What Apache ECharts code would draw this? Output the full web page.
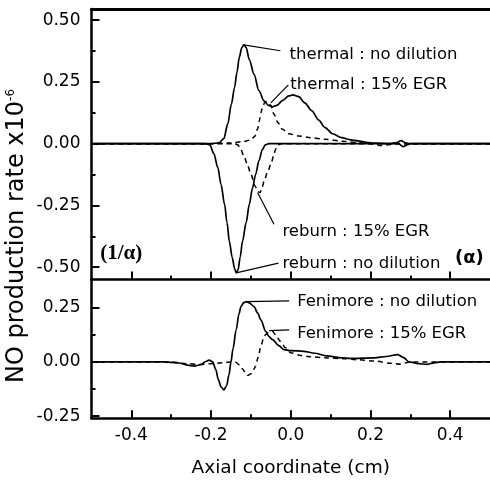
<!DOCTYPE html>
<html>
<head>
<meta charset="utf-8">
<script src="https://cdn.jsdelivr.net/npm/echarts@6/dist/echarts.min.js"></script>
<style>html,body{margin:0;padding:0;background:#fff}#c{width:490px;height:482px}</style>
</head>
<body>
<div id="c"></div>
<script>
// ---- data (x in cm, y in 1e-6 units) ----
const thermalNoDil = [[-0.5,0],[-0.2,0],[-0.18,0.003],[-0.168,0.02],[-0.158,0.08],[-0.149,0.16],[-0.141,0.227],[-0.135,0.29],[-0.129,0.35],[-0.123,0.388],[-0.118,0.40],[-0.112,0.39],[-0.104,0.34],[-0.092,0.28],[-0.08,0.215],[-0.067,0.173],[-0.056,0.155],[-0.046,0.149],[-0.035,0.155],[-0.02,0.175],[-0.005,0.193],[0.005,0.197],[0.02,0.19],[0.035,0.165],[0.053,0.133],[0.07,0.095],[0.086,0.065],[0.105,0.04],[0.128,0.024],[0.15,0.015],[0.169,0.011],[0.19,0.005],[0.21,0.002],[0.25,0],[0.265,0.004],[0.277,0.012],[0.287,0.004],[0.295,0],[0.5,0]];
const thermalEGR = [[-0.5,0],[-0.2,0],[-0.15,0.003],[-0.12,0.008],[-0.1,0.015],[-0.09,0.03],[-0.083,0.06],[-0.079,0.092],[-0.075,0.125],[-0.071,0.146],[-0.065,0.168],[-0.058,0.17],[-0.05,0.155],[-0.042,0.119],[-0.032,0.085],[-0.021,0.058],[-0.005,0.04],[0.02,0.031],[0.05,0.024],[0.086,0.018],[0.13,0.01],[0.17,0.004],[0.2,0],[0.227,-0.008],[0.25,-0.004],[0.27,0],[0.5,0]];
const reburnNoDil = [[-0.5,0],[-0.215,0],[-0.203,-0.005],[-0.193,-0.04],[-0.183,-0.097],[-0.175,-0.165],[-0.166,-0.246],[-0.16,-0.32],[-0.154,-0.396],[-0.147,-0.46],[-0.141,-0.505],[-0.137,-0.523],[-0.132,-0.51],[-0.127,-0.46],[-0.121,-0.395],[-0.112,-0.32],[-0.104,-0.246],[-0.096,-0.18],[-0.088,-0.124],[-0.08,-0.07],[-0.071,-0.023],[-0.064,-0.005],[-0.055,0],[0.27,0],[0.282,-0.012],[0.292,-0.005],[0.3,0],[0.5,0]];
const reburnEGR = [[-0.5,0],[-0.14,0],[-0.133,-0.005],[-0.125,-0.025],[-0.116,-0.057],[-0.108,-0.09],[-0.1,-0.124],[-0.09,-0.17],[-0.082,-0.195],[-0.077,-0.198],[-0.072,-0.18],[-0.067,-0.151],[-0.058,-0.115],[-0.05,-0.084],[-0.043,-0.05],[-0.038,-0.023],[-0.032,-0.005],[-0.025,0],[0.5,0]];
const fenNoDil = [[-0.5,0],[-0.32,0],[-0.28,-0.005],[-0.26,-0.015],[-0.24,-0.019],[-0.225,-0.012],[-0.213,0.002],[-0.205,0.008],[-0.196,0.0],[-0.188,-0.035],[-0.182,-0.08],[-0.175,-0.115],[-0.168,-0.129],[-0.161,-0.11],[-0.155,-0.06],[-0.15,0],[-0.145,0.06],[-0.137,0.148],[-0.13,0.22],[-0.125,0.255],[-0.118,0.273],[-0.112,0.278],[-0.104,0.272],[-0.092,0.255],[-0.083,0.225],[-0.075,0.194],[-0.063,0.141],[-0.055,0.118],[-0.046,0.103],[-0.03,0.075],[-0.017,0.057],[0.0,0.052],[0.033,0.049],[0.06,0.04],[0.09,0.028],[0.128,0.019],[0.15,0.016],[0.21,0.019],[0.24,0.025],[0.268,0.034],[0.283,0.02],[0.297,0],[0.32,-0.008],[0.343,-0.011],[0.36,-0.004],[0.376,0],[0.5,0]];
const fenEGR = [[-0.5,0],[-0.3,0],[-0.26,-0.008],[-0.23,-0.012],[-0.2,-0.008],[-0.17,-0.004],[-0.15,0.0],[-0.138,-0.002],[-0.128,-0.015],[-0.12,-0.034],[-0.113,-0.055],[-0.108,-0.062],[-0.1,-0.055],[-0.093,-0.035],[-0.088,-0.019],[-0.082,0.02],[-0.075,0.072],[-0.069,0.105],[-0.063,0.126],[-0.055,0.138],[-0.046,0.141],[-0.038,0.125],[-0.026,0.095],[-0.013,0.065],[0.0,0.042],[0.025,0.03],[0.049,0.024],[0.086,0.019],[0.132,0.015],[0.17,0.01],[0.21,0.004],[0.25,-0.006],[0.276,-0.011],[0.29,-0.004],[0.3,0],[0.5,0]];

const xMajorTicks = [-0.4,-0.2,0,0.2,0.4];
const xMinorTicks = [-0.3,-0.1,0.1,0.3];
const yTopMajor = [-0.5,-0.25,0,0.25,0.5];
const yTopMinor = [-0.375,-0.125,0.125,0.375];
const yBotMajor = [-0.25,0,0.25];
const yBotMinor = [-0.125,0.125];

const xTitle = 'Axial coordinate (cm)';
const yTitle = 'NO production rate x10';
const yTitleSup = '-6';

// annotation texts with anchor (data coords) and leader line from curve feature
const topNotes = [
  {text:'thermal : no dilution', at:[-0.003,0.36], from:[-0.118,0.40], to:[-0.026,0.376]},
  {text:'thermal : 15% EGR', at:[-0.001,0.238], from:[-0.050,0.165], to:[-0.006,0.238]},
  {text:'reburn : 15% EGR', at:[-0.021,-0.358], from:[-0.083,-0.199], to:[-0.042,-0.326]},
  {text:'reburn : no dilution', at:[-0.021,-0.488], from:[-0.137,-0.523], to:[-0.031,-0.484]}
];
const botNotes = [
  {text:'Fenimore : no dilution', at:[0.016,0.276], from:[-0.112,0.278], to:[-0.004,0.281]},
  {text:'Fenimore : 15% EGR', at:[0.016,0.13], from:[-0.054,0.144], to:[-0.004,0.148]}
];
const sideNotes = [
  {text:'(1/α)', at:[-0.478,-0.447], font:'Liberation Serif', size:21},
  {text:'(α)', at:[0.412,-0.463], font:'DejaVu Sans', size:18}
];

// ---- chart ----
const FONT = 'DejaVu Sans';
const chart = echarts.init(document.getElementById('c'), null, {renderer:'canvas'});

function xAx(grid, pos, opts) {
  return Object.assign({
    type:'value', gridIndex:grid, position:pos, min:-0.5, max:0.5,
    splitLine:{show:false},
    axisLine:{show:false, onZero:false, lineStyle:{color:'#000', width:2.5}},
    axisTick:{show:false},
    axisLabel:{show:false}
  }, opts);
}
function yAx(grid, min, max, opts) {
  return Object.assign({
    type:'value', gridIndex:grid, position:'left', min:min, max:max,
    splitLine:{show:false},
    axisLine:{show:false, onZero:false, lineStyle:{color:'#000', width:2.5}},
    axisTick:{show:false},
    axisLabel:{show:false}
  }, opts);
}
const lineOn = w => ({show:true, onZero:false, lineStyle:{color:'#000', width:w}});
const tickMaj = vals => ({show:true, inside:true, length:8, customValues:vals, lineStyle:{color:'#000', width:2}});
const tickMin = vals => ({show:true, inside:true, length:4, customValues:vals, lineStyle:{color:'#000', width:2}});

function curve(name, data, gi, dashed) {
  return {
    name, type:'line', data, xAxisIndex: gi===0?0:3, yAxisIndex: gi===0?0:2,
    showSymbol:false, symbol:'none', smooth:0.3, smoothMonotone:'x',
    lineStyle:{color:'#000', width: dashed?1.5:1.7, type: dashed?[5,4]:'solid'},
    animation:false, silent:true, z:3
  };
}
function notes(list, gi) {
  return {
    type:'scatter', xAxisIndex: gi===0?0:3, yAxisIndex: gi===0?0:2,
    symbolSize:0, silent:true, animation:false, z:5,
    itemStyle:{opacity:1},
    data: list.map(n => ({value:[n.at[0], n.at[1]], name:n.text})),
    label:{show:true, position:'right', distance:0, formatter:p=>p.name,
      color:'#000', opacity:1, fontFamily:FONT, fontSize:16.5},
    markLine: {
      silent:true, animation:false, symbol:['none','none'],
      label:{show:false},
      lineStyle:{color:'#000', width:1.2, type:'solid', opacity:1},
      data: list.map(n => [{coord:n.from},{coord:n.to}])
    }
  };
}

const option = {
  backgroundColor:'#fff',
  animation:false,
  grid:[
    {left:91.5, top:9, width:403, height:270.5},
    {left:91.5, top:279.5, width:403, height:138.8}
  ],
  xAxis:[
    xAx(0,'bottom',{axisLine:lineOn(2.5), axisTick:tickMaj(xMajorTicks)}),
    xAx(0,'bottom',{axisTick:tickMin(xMinorTicks)}),
    xAx(0,'top',{axisLine:lineOn(3)}),
    xAx(1,'bottom',{axisLine:lineOn(2.5), axisTick:tickMaj(xMajorTicks),
      axisLabel:{show:true, customValues:xMajorTicks, margin:9, color:'#000', fontFamily:FONT, fontSize:17,
        formatter:v=>v.toFixed(1)},
      name:xTitle, nameLocation:'middle', nameGap:40,
      nameTextStyle:{color:'#000', fontFamily:FONT, fontSize:18.5}}),
    xAx(1,'bottom',{axisTick:tickMin(xMinorTicks)})
  ],
  yAxis:[
    yAx(0,-0.55,0.545,{axisLine:lineOn(2.5), axisTick:tickMaj(yTopMajor),
      axisLabel:{show:true, customValues:yTopMajor, margin:11, color:'#000', fontFamily:FONT, fontSize:17,
        formatter:v=>v.toFixed(2)}}),
    yAx(0,-0.55,0.545,{axisTick:tickMin(yTopMinor)}),
    yAx(1,-0.26,0.38,{axisLine:lineOn(2.5), axisTick:tickMaj(yBotMajor),
      axisLabel:{show:true, customValues:yBotMajor, margin:11, color:'#000', fontFamily:FONT, fontSize:17,
        formatter:v=>v.toFixed(2)}}),
    yAx(1,-0.26,0.38,{axisTick:tickMin(yBotMinor)})
  ],
  graphic:[{
    type:'text', x:17, y:236, rotation:Math.PI/2, silent:true,
    style:{
      text: yTitle + '{sup|' + yTitleSup + '}',
      fill:'#000', fontSize:24, fontFamily:FONT,
      align:'center', verticalAlign:'middle',
      rich:{sup:{fontSize:12, fontFamily:FONT, fill:'#000', verticalAlign:'top', padding:[0,0,11,0]}}
    }
  }],
  series:[
    curve('thermal : no dilution', thermalNoDil, 0, false),
    curve('thermal : 15% EGR', thermalEGR, 0, true),
    curve('reburn : no dilution', reburnNoDil, 0, false),
    curve('reburn : 15% EGR', reburnEGR, 0, true),
    curve('Fenimore : no dilution', fenNoDil, 1, false),
    curve('Fenimore : 15% EGR', fenEGR, 1, true),
    notes(topNotes, 0),
    notes(botNotes, 1),
    {
      type:'scatter', xAxisIndex:0, yAxisIndex:0, symbolSize:0, silent:true, animation:false, z:5,
      itemStyle:{opacity:1},
      data: sideNotes.map(n => ({value:n.at, name:n.text,
        label:{fontFamily:n.font, fontSize:n.size}})),
      label:{show:true, position:'right', distance:0, formatter:p=>p.name,
        color:'#000', opacity:1, fontWeight:'bold'}
    }
  ]
};
chart.setOption(option);
</script>
</body>
</html>
